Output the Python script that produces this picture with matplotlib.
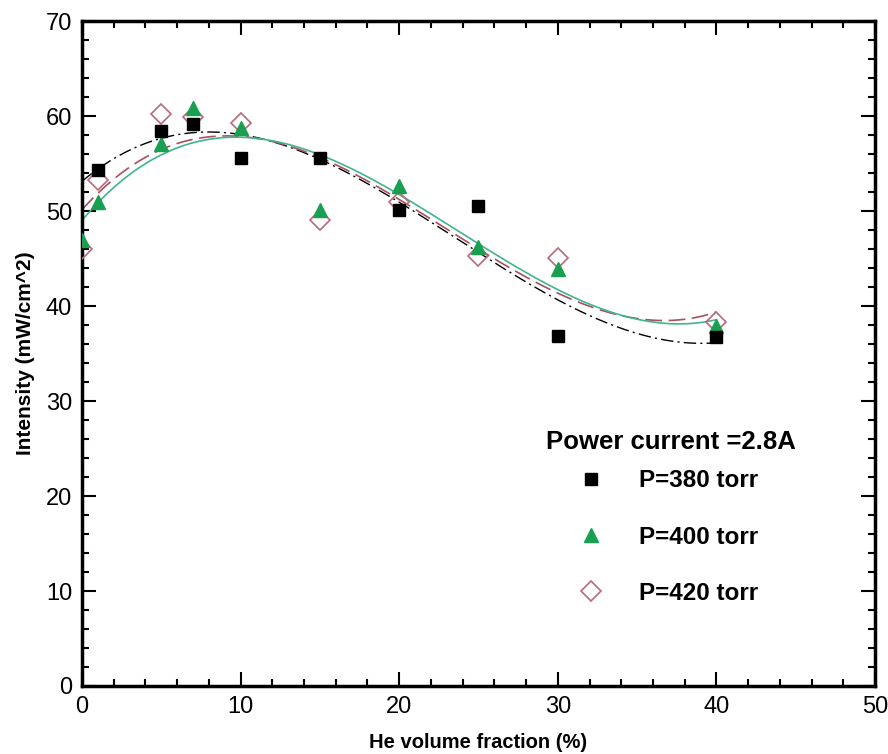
import numpy as np
import matplotlib
matplotlib.use("Agg")
import matplotlib.pyplot as plt
from matplotlib.ticker import MultipleLocator

# He volume fraction (%) and measured intensity (mW/cm^2)
x_380 = [1, 5, 7, 10, 15, 20, 25, 30, 40]
i_380 = [54.3, 58.4, 59.2, 55.6, 55.6, 50.1, 50.5, 36.8, 36.7]

x_400 = [0, 1, 5, 7, 10, 15, 20, 25, 30, 40]
i_400 = [47.0, 51.0, 57.1, 60.8, 58.7, 50.1, 52.6, 46.2, 43.9, 37.9]

x_420 = [0, 1, 5, 7, 10, 15, 20, 25, 30, 40]
i_420 = [46.0, 53.3, 60.2, 59.9, 59.3, 49.1, 51.0, 45.3, 45.1, 38.3]

labels = ["P=380 torr", "P=400 torr", "P=420 torr"]

plt.rcParams["font.family"] = ["Liberation Sans", "DejaVu Sans"]

fig = plt.figure(figsize=(8.88, 7.54), dpi=100)
ax = fig.add_axes([0.0923, 0.0902, 0.8931, 0.8818])

# cubic trend lines
xf = np.linspace(0, 40, 200)
fits = [
    (x_380, i_380, dict(color="black", lw=1.0, dashes=(9, 3, 1.5, 3))),
    (x_420, i_420, dict(color="#a8505e", lw=1.2, dashes=(10, 4))),
    (x_400, i_400, dict(color="#3fb58e", lw=1.2, ls="-")),
]
for xs, ys, kw in fits:
    c = np.polyfit(xs, ys, 3)
    ax.plot(xf, np.polyval(c, xf), **kw)

h1, = ax.plot(x_380, i_380, "s", ms=9, color="black", ls="none", zorder=5)
h2, = ax.plot(x_400, i_400, "^", ms=10.5, color="#18a050", ls="none", zorder=4)
h3, = ax.plot(x_420, i_420, "D", ms=10, mfc="none", mec="#b86a78", mew=1.2,
              ls="none", zorder=3)

ax.set_xlim(0, 50)
ax.set_ylim(0, 70)
ax.xaxis.set_major_locator(MultipleLocator(10))
ax.xaxis.set_minor_locator(MultipleLocator(2))
ax.yaxis.set_major_locator(MultipleLocator(10))
ax.yaxis.set_minor_locator(MultipleLocator(2))
ax.tick_params(which="both", direction="in", top=True, right=True, width=1.5)
ax.tick_params(which="major", length=10, labelsize=17, pad=7)
ax.tick_params(which="minor", length=5)
for s in ax.spines.values():
    s.set_linewidth(2.5)

ax.set_xlabel("He volume fraction (%)", fontweight="bold",
              fontsize=14.5, labelpad=11)
ax.set_ylabel("Intensity (mW/cm^2)", fontweight="bold",
              fontsize=15, labelpad=8)

ax.text(0.585, 0.367, "Power current =2.8A", transform=ax.transAxes,
        fontweight="bold", fontsize=18.5, va="center", ha="left")
ax.legend([h1, h2, h3], labels, loc="upper left",
          bbox_to_anchor=(0.611, 0.326), frameon=False,
          handletextpad=1.0, labelspacing=1.37, borderaxespad=0,
          borderpad=0, prop=dict(weight="bold", size=17.5))

fig.savefig("out.png", dpi=100)
